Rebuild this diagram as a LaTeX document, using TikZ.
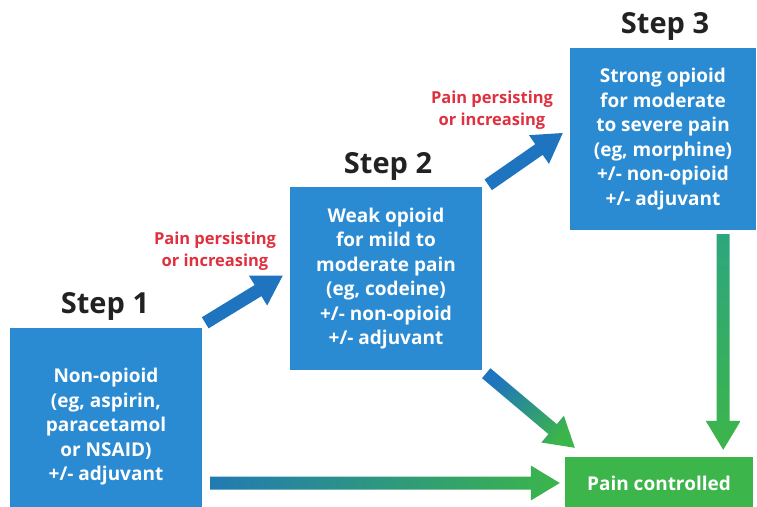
\documentclass[tikz,border=0pt]{standalone}
\usepackage{fontspec}
\setmainfont{Open Sans}
\usepackage{tikz}
\usetikzlibrary{calc, positioning}
\definecolor{C_BOX} {HTML}{2A8BD2}
\definecolor{C_ARR} {HTML}{1E74BE}
\definecolor{C_OK}  {HTML}{3CB54A}
\definecolor{C_TEAL}{HTML}{2EA67E}
\definecolor{C_RED} {HTML}{E0303F}
\definecolor{C_HEAD}{HTML}{222222}
\tikzset{
  %% -- step boxes --
  WHO/step/.style={
    fill=C_BOX, text=white, align=center,
    font=\fontsize{19}{24.5}\selectfont\bfseries, inner sep=0pt
  },
  %% -- step titles --
  WHO/title/.style={text=C_HEAD, font=\fontsize{29}{32}\selectfont\bfseries},
  %% -- red escalation note --
  WHO/note/.style={text=C_RED, align=center,
    font=\fontsize{16.5}{21.5}\selectfont\bfseries},
  %% -- outcome box --
  WHO/done/.style={fill=C_OK, text=white,
    font=\fontsize{19}{22}\selectfont\bfseries, inner sep=0pt},
  %% -- fat arrows --
  WHO/up/.style={fill=C_ARR},
  WHO/down/.style={top color=C_ARR, bottom color=C_OK, shading angle=48},
  WHO/right/.style={left color=C_ARR!90!C_OK, right color=C_OK, shading angle=90},
  WHO/drop/.style={top color=C_TEAL, bottom color=C_OK, shading angle=0},
}
%% fat arrow polygon between two points
\newcommand\fatarrow[3][]{%
  \coordinate (fa-s) at #2;
  \coordinate (fa-e) at #3;
  \coordinate (fa-h) at ($(fa-e)!29pt!(fa-s)$);
  \path[#1] ($(fa-s)!6.5pt!90:(fa-e)$) -- ($(fa-h)!6.5pt!90:(fa-e)$)
    -- ($(fa-h)!17.5pt!90:(fa-e)$) -- (fa-e)
    -- ($(fa-h)!17.5pt!-90:(fa-e)$) -- ($(fa-h)!6.5pt!-90:(fa-e)$)
    -- ($(fa-s)!6.5pt!-90:(fa-e)$) -- cycle;
}

\begin{document}
\begin{tikzpicture}[x=1pt, y=-1pt]
\useasboundingbox (0,0) rectangle (757,506);
\clip (0,0) rectangle (757,506);

%% Step boxes
\node[WHO/step, minimum width=192pt, minimum height=198pt] (s1) at (106,427)
  {Non-opioid\\(eg, aspirin,\\paracetamol\\or NSAID)\\+/- adjuvant};
\node[WHO/step, minimum width=192pt, minimum height=183pt] (s2) at (386,278.5)
  {Weak opioid\\for mild to\\moderate pain\\(eg, codeine)\\+/- non-opioid\\+/- adjuvant};
\node[WHO/step, minimum width=186pt, minimum height=182pt] (s3) at (663,139)
  {Strong opioid\\for moderate\\to severe pain\\(eg, morphine)\\+/- non-opioid\\+/- adjuvant};

%% Titles
\node[WHO/title] (t1) at (105,306) {Step 1};
\node[WHO/title] (t2) at (388,166) {Step 2};
\node[WHO/title] (t3) at (665,26) {Step 3};

%% Outcome
\node[WHO/done, minimum width=188pt, minimum height=52pt] (pc) at (659,483)
  {Pain controlled};

%% Escalation notes
\node[WHO/note] (n1) at (215,251) {Pain persisting\\or increasing};
\node[WHO/note] (n2) at (492,110) {Pain persisting\\or increasing};

%% Escalation arrows
\fatarrow[WHO/up]{($(s1.north east)+(3,-5)$)}{($(s2.west)+(-7,-3)$)}
\fatarrow[WHO/up]{($(s2.north east)+(6,-2)$)}{($(s3.west)+(-7,-6)$)}

%% Arrows to outcome
\fatarrow[WHO/right]{($(s1.east |- pc.west)+(8,0)$)}{($(pc.west)+(-5,0)$)}
\fatarrow[WHO/down]{($(s2.south east)+(4,3)$)}{($(pc.north west)+(10,-9)$)}
\fatarrow[WHO/drop]{($(s3.south east)+(-33,4)$)}{($(pc.north east)+(-30,-7)$)}

\end{tikzpicture}
\end{document}
